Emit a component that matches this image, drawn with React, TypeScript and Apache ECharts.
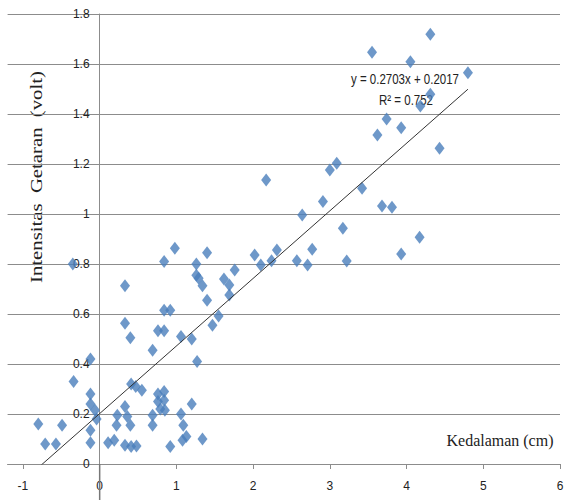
import React, { useEffect, useRef } from "react";
import * as echarts from "echarts";

// Kedalaman (cm)
const depthValues: number[] = [
  -0.8, -0.71, -0.57, -0.49, -0.34, -0.35, -0.12, -0.12, -0.12, -0.06,
  -0.04, -0.12, -0.12, 0.11, 0.19, 0.23, 0.22, 0.33, 0.36, 0.4,
  0.33, 0.41, 0.48, 0.41, 0.47, 0.55, 0.4, 0.69, 0.69, 0.69,
  0.76, 0.76, 0.84, 0.84, 0.79, 0.85, 1.06, 1.2, 1.27, 1.2,
  1.06, 1.09, 1.13, 1.08, 0.92, 1.34, 0.33, 0.33, 0.84, 0.84,
  0.92, 0.76, 0.84, 0.98, 1.26, 1.26, 1.29, 1.34, 1.4, 1.4,
  1.47, 1.55, 1.62, 1.69, 1.69, 1.76, 2.02, 2.1, 2.24, 2.31,
  2.17, 2.57, 2.71, 2.77, 2.64, 3.17, 3.22, 2.91, 4.31, 3.55,
  4.05, 4.8, 4.31, 4.18, 3.74, 3.62, 3.93, 4.43, 3.09, 3.0,
  3.42, 3.68, 3.81, 4.17, 3.93,
];

// Intensitas Getaran (volt)
const intensityValues: number[] = [
  0.16, 0.08, 0.08, 0.155, 0.33, 0.8, 0.42, 0.28, 0.24, 0.215,
  0.18, 0.135, 0.085, 0.085, 0.095, 0.195, 0.155, 0.23, 0.19, 0.155,
  0.075, 0.07, 0.072, 0.32, 0.31, 0.295, 0.505, 0.455, 0.195, 0.155,
  0.28, 0.25, 0.29, 0.255, 0.22, 0.215, 0.51, 0.5, 0.41, 0.24,
  0.2, 0.155, 0.11, 0.095, 0.07, 0.1, 0.713, 0.563, 0.81, 0.615,
  0.615, 0.533, 0.533, 0.863, 0.8, 0.755, 0.743, 0.713, 0.655, 0.845,
  0.555, 0.592, 0.74, 0.716, 0.676, 0.776, 0.836, 0.796, 0.813, 0.856,
  1.136, 0.813, 0.796, 0.859, 0.996, 0.943, 0.812, 1.05, 1.719, 1.647,
  1.609, 1.565, 1.479, 1.432, 1.38, 1.316, 1.345, 1.263, 1.203, 1.176,
  1.103, 1.032, 1.027, 0.907, 0.84,
];

const xTickValues: number[] = [-1, 0, 1, 2, 3, 4, 5, 6];
const axisExtension: number[][] = [[0, 0]];

const trendSlope = 0.2703;
const trendIntercept = 0.2017;
const trendRange: number[] = [-0.8, 4.8];

const equationText = "y = 0.2703x + 0.2017";
const rSquaredText = "R\u00B2 = 0.752";
const xTitle = "Kedalaman (cm)";
const yTitle = "Intensitas  Getaran  (volt)";

const sansFont = '"Liberation Sans Narrow", "Liberation Sans", Arial, sans-serif';
const serifFont = '"Liberation Serif", "Times New Roman", serif';

const W = 565;
const H = 502;

export default function App() {
  const ref = useRef<HTMLDivElement>(null);

  useEffect(() => {
    if (!ref.current) return;
    const chart = echarts.init(ref.current, undefined, { renderer: "svg" });

    const points = depthValues.map((x, i) => [x, intensityValues[i]]);
    const trendPoints = trendRange.map((x) => [x, trendSlope * x + trendIntercept]);

    chart.setOption({
      animation: false,
      backgroundColor: "#ffffff",
      grid: {
        left: 7.6,
        right: 5,
        top: 14,
        bottom: 38,
        containLabel: false,
        outerBoundsMode: "none",
      },
      xAxis: {
        type: "value",
        min: -1.2,
        max: 6,
        axisLine: { onZero: true, lineStyle: { color: "#8c8c8c", width: 1 } },
        axisTick: {
          show: true,
          customValues: xTickValues,
          length: 5,
          lineStyle: { color: "#8c8c8c" },
        },
        axisLabel: {
          customValues: xTickValues,
          margin: 16,
          color: "#222",
          fontSize: 12,
          fontFamily: sansFont,
        },
        splitLine: { show: false },
      },
      yAxis: {
        type: "value",
        min: 0,
        max: 1.8,
        interval: 0.2,
        axisLine: { show: true, onZero: true, lineStyle: { color: "#8c8c8c", width: 1 } },
        axisTick: { show: false },
        axisLabel: {
          margin: -82,
          color: "#222",
          fontSize: 12,
          fontFamily: sansFont,
          formatter: (v: number) => String(Math.round(v * 10) / 10),
        },
        splitLine: { show: true, lineStyle: { color: "#8c8c8c", width: 1 } },
      },
      series: [
        {
          // extension of the vertical axis line below zero
          type: "custom",
          coordinateSystem: "cartesian2d",
          data: axisExtension,
          clip: false,
          z: 10,
          renderItem: (params: any, api: any) => {
            const p = api.coord([api.value(0), api.value(1)]);
            return {
              type: "rect",
              shape: { x: p[0] - 0.75, y: p[1], width: 1.5, height: 36 },
              style: { fill: "#777777" },
            };
          },
        },
        {
          type: "scatter",
          data: points,
          symbol: "diamond",
          symbolSize: [10, 13],
          itemStyle: { color: "#4a7ebb" },
          z: 3,
        },
        {
          type: "line",
          data: trendPoints,
          showSymbol: false,
          symbol: "none",
          lineStyle: { color: "#333333", width: 1 },
          z: 4,
        },
      ],
      graphic: [
        {
          type: "text",
          x: 36,
          y: 177,
          rotation: Math.PI / 2,
          scaleX: 1.22,
          style: {
            text: yTitle,
            font: `17px ${serifFont}`,
            fill: "#222",
            align: "center",
            verticalAlign: "middle",
          },
        },
        {
          type: "text",
          x: 500,
          y: 440,
          scaleY: 1.1,
          style: {
            text: xTitle,
            font: `16px ${serifFont}`,
            fill: "#222",
            align: "center",
            verticalAlign: "middle",
          },
        },
        {
          type: "text",
          x: 405,
          y: 79,
          scaleX: 0.92,
          scaleY: 1.2,
          style: {
            text: equationText,
            font: `12.5px ${sansFont}`,
            fill: "#222",
            align: "center",
            verticalAlign: "middle",
          },
        },
        {
          type: "text",
          x: 406,
          y: 100,
          scaleX: 0.92,
          scaleY: 1.2,
          style: {
            text: rSquaredText,
            font: `12.5px ${sansFont}`,
            fill: "#222",
            align: "center",
            verticalAlign: "middle",
          },
        },
      ],
    });

    return () => chart.dispose();
  }, []);

  return (
    <div
      ref={ref}
      style={{ position: "absolute", left: 0, top: 0, width: W, height: H }}
    />
  );
}
